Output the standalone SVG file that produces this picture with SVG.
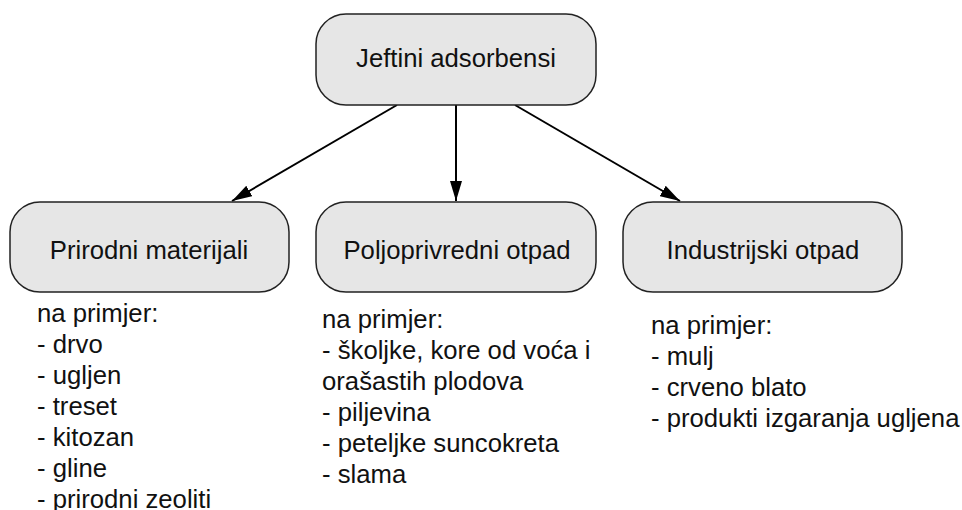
<svg xmlns="http://www.w3.org/2000/svg" width="962" height="510" viewBox="0 0 962 510">
<style>
.box{fill:#e6e6e6;stroke:#222;stroke-width:1.5}
.lbl{font-family:"Liberation Sans",Arial,Helvetica,sans-serif;font-size:25.7px;fill:#111}
.c{text-anchor:middle}
.edge{stroke:#000;stroke-width:2;fill:none;marker-end:url(#ah)}
</style>
<defs>
<marker id="ah" markerUnits="userSpaceOnUse" markerWidth="22" markerHeight="12" refX="20" refY="6" orient="auto">
<path d="M0,0 L20,6 L0,12 Z" fill="#000"/>
</marker>
</defs>
<rect width="962" height="510" fill="#fff"/>
<g id="connectors">
<line class="edge" x1="397" y1="105" x2="232" y2="201"/>
<line class="edge" x1="456" y1="105" x2="456" y2="201"/>
<line class="edge" x1="515" y1="105" x2="680" y2="201"/>
</g>
<g id="root">
<rect class="box" x="316" y="14" width="280" height="91" rx="30" ry="30"/>
<text class="lbl c" x="456" y="67">Jeftini adsorbensi</text>
</g>
<g id="prirodni">
<rect class="box" x="10" y="202" width="279" height="90" rx="30" ry="30"/>
<text class="lbl c" x="149" y="259">Prirodni materijali</text>
</g>
<g id="poljoprivredni">
<rect class="box" x="316" y="202" width="280" height="90" rx="30" ry="30"/>
<text class="lbl c" x="457" y="259">Poljoprivredni otpad</text>
</g>
<g id="industrijski">
<rect class="box" x="623" y="202" width="279" height="90" rx="30" ry="30"/>
<text class="lbl c" x="763" y="259">Industrijski otpad</text>
</g>
<g id="list-prirodni">
<text class="lbl" x="37" y="322">na primjer:</text>
<text class="lbl" x="37" y="353">- drvo</text>
<text class="lbl" x="37" y="384">- ugljen</text>
<text class="lbl" x="37" y="415">- treset</text>
<text class="lbl" x="37" y="446">- kitozan</text>
<text class="lbl" x="37" y="477">- gline</text>
<text class="lbl" x="37" y="508">- prirodni zeoliti</text>
</g>
<g id="list-poljoprivredni">
<text class="lbl" x="322" y="328">na primjer:</text>
<text class="lbl" x="322" y="359">- školjke, kore od voća i</text>
<text class="lbl" x="322" y="390">orašastih plodova</text>
<text class="lbl" x="322" y="421">- piljevina</text>
<text class="lbl" x="322" y="452">- peteljke suncokreta</text>
<text class="lbl" x="322" y="483">- slama</text>
</g>
<g id="list-industrijski">
<text class="lbl" x="651" y="334">na primjer:</text>
<text class="lbl" x="651" y="365">- mulj</text>
<text class="lbl" x="651" y="396">- crveno blato</text>
<text class="lbl" x="651" y="427">- produkti izgaranja ugljena</text>
</g>
</svg>
